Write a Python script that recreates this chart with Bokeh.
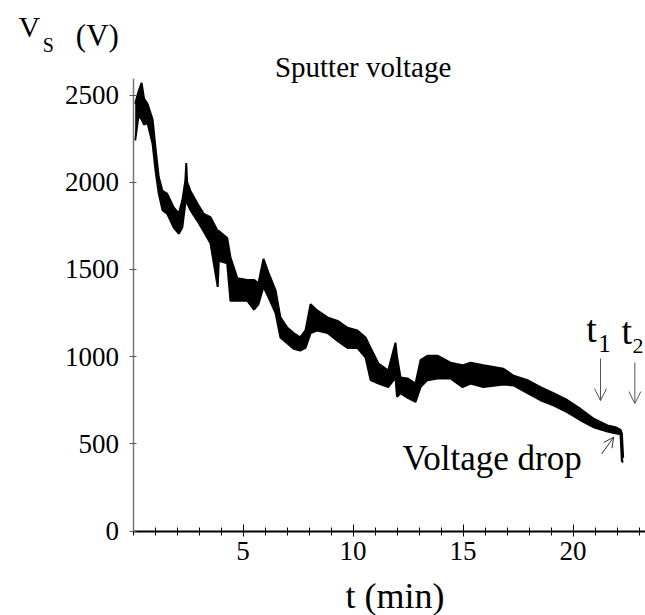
from bokeh.plotting import figure
from bokeh.models import (Label, Arrow, OpenHead, FixedTicker, Range1d, LinearAxis)
from bokeh.embed import file_html
from bokeh.resources import INLINE

# ---- data (envelope of the noisy trace) ----
time_min = [0.1, 0.25, 0.39, 0.5, 0.66, 0.89, 1.02, 1.17, 1.34, 1.55, 1.85, 2.08,
            2.24, 2.38, 2.42, 2.46, 2.61, 2.92, 3.2, 3.52, 3.85, 3.9, 4.28, 4.43,
            4.74, 5.2, 5.5, 5.7, 5.93, 6.16, 6.48, 6.7, 7.02, 7.3, 7.6, 7.84,
            8.07, 8.37, 8.84, 9.3, 9.75, 10.2, 10.57, 10.8, 11.16, 11.6, 11.93,
            12.0, 12.16, 12.47, 12.84, 13.07, 13.38, 13.84, 14.43, 14.98, 15.34,
            15.93, 16.84, 17.3, 17.93, 18.52, 19.11, 19.75, 20.34, 20.93, 21.57,
            21.93, 22.16, 22.22, 22.28]
v_low = [2240, 2380, 2360, 2330, 2340, 2220, 2070, 1935, 1840, 1820, 1740, 1705,
         1740, 1880, 1890, 1880, 1840, 1780, 1720, 1650, 1400, 1550, 1535, 1320,
         1320, 1320, 1270, 1300, 1400, 1340, 1250, 1110, 1075, 1045, 1035, 1050,
         1135, 1150, 1135, 1090, 1050, 1050, 995, 865, 845, 825, 880,
         770, 790, 765, 740, 825, 865, 875, 875, 825, 845,
         825, 840, 835, 790, 750, 720, 680, 635, 595, 570,
         560, 555, 400, 395]
v_high = [2450, 2520, 2570, 2480, 2450, 2360, 2200, 2030, 1950, 1935, 1855, 1820,
          1895, 2010, 2110, 2000, 1950, 1880, 1820, 1800, 1720, 1720, 1680, 1570,
          1450, 1440, 1440, 1420, 1560, 1480, 1380, 1225, 1165, 1135, 1110, 1150,
          1300, 1265, 1225, 1205, 1165, 1150, 1110, 1050, 960, 920, 1080,
          1000, 880, 875, 845, 980, 1005, 1005, 965, 950, 965,
          950, 930, 890, 865, 825, 790, 750, 700, 645, 605,
          595, 580, 560, 420]

x_ticks = [5, 10, 15, 20]
x_minor = list(range(0, 24))
y_ticks = [0, 500, 1000, 1500, 2000, 2500]

SERIF = "Liberation Serif"
V_PER_PX = 500 / 87.2

# frame covers the whole canvas; axes are pinned at t=0 / V=0
p = figure(width=645, height=615, output_backend="svg", toolbar_location=None,
           x_range=Range1d(-6.023, 23.295), y_range=Range1d(-484.5, 3042),
           x_axis_location=None, y_axis_location=None)
p.min_border = 0
p.min_border_left = 0
p.min_border_right = 0
p.min_border_top = 0
p.min_border_bottom = 0
p.outline_line_color = None
p.xgrid.grid_line_color = None
p.ygrid.grid_line_color = None
p.background_fill_color = "white"
p.border_fill_color = "white"

p.varea(x=time_min, y1=v_low, y2=v_high, fill_color="black")
p.line(x=time_min, y=v_high, line_color="black", line_width=2)
p.line(x=time_min, y=v_low, line_color="black", line_width=2)

# axes
xa = LinearAxis(fixed_location=0, bounds=(0, 23.3),
                ticker=FixedTicker(ticks=x_ticks, minor_ticks=x_minor))
xa.axis_line_color = "black"
xa.axis_line_width = 2
xa.major_tick_in = 7
xa.major_tick_out = 5
xa.minor_tick_in = 4
xa.minor_tick_out = 4
xa.major_tick_line_color = "black"
xa.minor_tick_line_color = "black"
xa.major_label_text_font = SERIF
xa.major_label_text_font_size = "27px"
xa.major_label_text_color = "black"
xa.major_label_standoff = 6
p.add_layout(xa, "below")

ya = LinearAxis(fixed_location=0, bounds=(0, 2595),
                ticker=FixedTicker(ticks=y_ticks, minor_ticks=[]))
ya.axis_line_color = "#777777"
ya.axis_line_width = 1.5
ya.major_tick_in = 3
ya.major_tick_out = 4
ya.minor_tick_line_color = None
ya.major_tick_line_color = "#555555"
ya.major_label_text_font = SERIF
ya.major_label_text_font_size = "27px"
ya.major_label_text_color = "black"
ya.major_label_standoff = 10
p.add_layout(ya, "left")


def lab(x, y, text, size, align="left"):
    # small upward correction so the rendered baseline sits where intended
    y_adj = y + 0.3 * size * V_PER_PX
    p.add_layout(Label(x=x, y=y_adj, text=text, text_font=SERIF,
                       text_font_size=f"{size}px", text_color="black",
                       text_align=align, text_baseline="alphabetic"))


# texts (data coordinates)
lab(-5.2, 2840, "V", 30)
lab(-4.1, 2755, "S", 20)
lab(-2.6, 2790, "(V)", 31)
lab(6.45, 2610, "Sputter voltage", 29)
lab(12.25, 358, "Voltage drop", 35)
lab(20.6, 1092, "t", 38)
lab(21.15, 1035, "1", 25)
lab(22.2, 1081, "t", 38)
lab(22.7, 1023, "2", 22)
lab(9.66, -433, "t (min)", 36)

# arrows
p.add_layout(Arrow(x_start=21.25, y_start=989, x_end=21.25, y_end=748,
                   line_color="#555555", line_width=1,
                   end=OpenHead(size=12, line_color="#555555", line_width=1)))
p.add_layout(Arrow(x_start=22.81, y_start=966, x_end=22.81, y_end=731,
                   line_color="#555555", line_width=1,
                   end=OpenHead(size=12, line_color="#555555", line_width=1)))
p.add_layout(Arrow(x_start=21.3, y_start=442, x_end=21.85, y_end=538,
                   line_color="#333333", line_width=1,
                   end=OpenHead(size=10, line_color="#333333", line_width=1)))

open("out.html", "w").write(file_html(p, INLINE))
